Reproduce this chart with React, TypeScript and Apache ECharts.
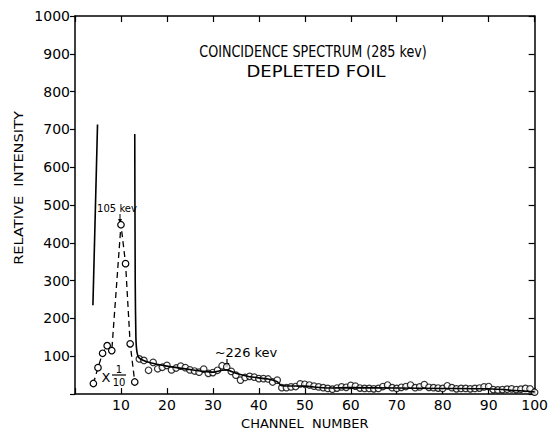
import React, { useEffect, useRef } from "react";
import * as echarts from "echarts";

// Dashed curve (scaled x 1/10) around the 105 keV peak
const peakChannels = [4, 5, 6, 7, 8, 10, 11, 12, 13];
const peakValues = [28, 70, 108, 128, 115, 448, 345, 133, 32];

// Measured points (open circles), channels 14..100
const tailChannels = [
  14, 15, 16, 17, 18, 19, 20, 21, 22, 23, 24, 25, 26, 27, 28, 29, 30, 31, 32, 33, 34,
  35, 36, 37, 38, 39, 40, 41, 42, 43, 44, 45, 46, 47, 48, 49, 50, 51, 52, 53, 54, 55,
  56, 57, 58, 59, 60, 61, 62, 63, 64, 65, 66, 67, 68, 69, 70, 71, 72, 73, 74, 75, 76,
  77, 78, 79, 80, 81, 82, 83, 84, 85, 86, 87, 88, 89, 90, 91, 92, 93, 94, 95, 96, 97,
  98, 99, 100,
];
const tailValues = [
  93, 89, 63, 84, 67, 71, 76, 64, 69, 74, 70, 64, 61, 58, 66, 55, 57, 63, 75, 72, 60,
  50, 37, 44, 47, 45, 41, 41, 40, 32, 37, 17, 17, 19, 20, 27, 26, 24, 21, 19, 17, 15,
  13, 16, 19, 18, 23, 21, 16, 15, 15, 14, 15, 20, 24, 17, 15, 18, 20, 24, 17, 19, 25,
  18, 17, 16, 15, 22, 17, 14, 15, 15, 14, 15, 16, 19, 20, 12, 11, 12, 13, 14, 12, 13,
  15, 14, 5,
];

// Solid (unscaled) curve
const riseChannels = [3.9, 4.9];
const riseValues = [235, 713];
const fitChannels = [13.0, 13.1, 13.25, 13.5, 14, 16, 20, 25, 28, 30, 32, 33, 35, 38, 42, 44, 45, 50, 55, 60, 70, 80, 90, 100];
const fitValues = [688, 300, 150, 110, 95, 84, 74, 65, 60, 58, 63, 64, 55, 46, 40, 33, 22, 21, 16, 17, 16, 15, 14, 6];

const xTicks = [0, 10, 20, 30, 40, 50, 60, 70, 80, 90, 100];
const yTicks = [0, 100, 200, 300, 400, 500, 600, 700, 800, 900, 1000];

const FONT = "DejaVu Sans";

export default function App() {
  const ref = useRef<HTMLDivElement>(null);
  useEffect(() => {
    if (!ref.current) return;
    const chart = echarts.init(ref.current, undefined, { renderer: "svg" });
    const zip = (xs: number[], ys: number[]) => xs.map((x, i) => [x, ys[i]]);
    const axisLine = { show: true, onZero: false, lineStyle: { color: "#000", width: 1.5 } };
    const txt = (x: number, y: number, text: string, size: number, extra: any = {}) => ({
      type: "text",
      x,
      y,
      ...extra,
      style: { text, font: `${size}px "${FONT}"`, fill: "#000", align: "center", verticalAlign: "middle" },
    });
    chart.setOption({
      animation: false,
      backgroundColor: "#fff",
      grid: { left: 75, right: 11, top: 16, bottom: 36 },
      xAxis: [
        {
          type: "value",
          min: xTicks[0],
          max: xTicks[xTicks.length - 1],
          interval: 10,
          position: "bottom",
          axisLine,
          axisTick: { show: true, inside: true, length: 6, lineStyle: { color: "#000", width: 1.2 } },
          splitLine: { show: false },
          axisLabel: {
            color: "#000",
            fontFamily: FONT,
            fontSize: 14,
            margin: 4,
            formatter: (v: number) => (v === 0 ? "" : String(v)),
          },
          name: "CHANNEL  NUMBER",
          nameLocation: "middle",
          nameGap: 20,
          nameTextStyle: { color: "#000", fontFamily: FONT, fontSize: 13 },
        },
        {
          type: "value",
          min: xTicks[0],
          max: xTicks[xTicks.length - 1],
          interval: 10,
          position: "top",
          axisLine,
          axisTick: { show: true, inside: true, length: 6, lineStyle: { color: "#000", width: 1.2 } },
          splitLine: { show: false },
          axisLabel: { show: false },
        },
      ],
      yAxis: [
        {
          type: "value",
          min: yTicks[0],
          max: yTicks[yTicks.length - 1],
          interval: 100,
          position: "left",
          axisLine,
          axisTick: { show: true, inside: false, length: 5, lineStyle: { color: "#000", width: 1.2 } },
          splitLine: { show: false },
          axisLabel: {
            color: "#000",
            fontFamily: FONT,
            fontSize: 14,
            margin: 5,
            formatter: (v: number) => (v === 0 ? "" : String(v)),
          },
        },
        {
          type: "value",
          min: yTicks[0],
          max: yTicks[yTicks.length - 1],
          interval: 100,
          position: "right",
          axisLine,
          axisTick: { show: true, inside: true, length: 6, lineStyle: { color: "#000", width: 1.2 } },
          splitLine: { show: false },
          axisLabel: { show: false },
        },
      ],
      series: [
        {
          type: "line",
          data: zip(riseChannels, riseValues),
          showSymbol: false,
          symbol: "none",
          lineStyle: { color: "#000", width: 1.6 },
          silent: true,
        },
        {
          type: "line",
          data: zip(fitChannels, fitValues),
          showSymbol: false,
          symbol: "none",
          smooth: 0.2,
          lineStyle: { color: "#000", width: 1.6 },
          silent: true,
        },
        {
          type: "line",
          data: zip(peakChannels, peakValues),
          symbol: "circle",
          symbolSize: 6.5,
          itemStyle: { color: "#fff", borderColor: "#000", borderWidth: 1.2 },
          lineStyle: { color: "#000", width: 1.3, type: [6, 4] },
          silent: true,
        },
        {
          type: "scatter",
          data: zip(tailChannels, tailValues),
          symbol: "circle",
          symbolSize: 6.5,
          itemStyle: { color: "#fff", borderColor: "#000", borderWidth: 1.2 },
          silent: true,
        },
      ],
      graphic: [
        txt(313, 52, "COINCIDENCE SPECTRUM (285 kev)", 15, { scaleX: 0.85 }),
        txt(316, 72, "DEPLETED FOIL", 15, { scaleX: 1.2 }),
        txt(18, 188, "RELATIVE  INTENSITY", 13, { rotation: Math.PI / 2, scaleX: 1.12 }),
        txt(117, 208, "105 kev", 10),
        { type: "line", shape: { x1: 120, y1: 214, x2: 120, y2: 222 }, style: { stroke: "#000", lineWidth: 1 } },
        { type: "polygon", shape: { points: [[118, 219], [122, 219], [120, 223]] }, style: { fill: "#000" } },
        txt(246, 352, "~226 kev", 13),
        { type: "line", shape: { x1: 227, y1: 359, x2: 227, y2: 367 }, style: { stroke: "#000", lineWidth: 1.2 } },
        { type: "polygon", shape: { points: [[224.5, 363], [229.5, 363], [227, 368]] }, style: { fill: "#000" } },
        txt(106, 377, "X", 13),
        txt(119, 369, "1", 10),
        { type: "line", shape: { x1: 112, y1: 375, x2: 126, y2: 375 }, style: { stroke: "#000", lineWidth: 1.2 } },
        txt(119, 382, "10", 10),
      ],
    });
    return () => chart.dispose();
  }, []);
  return (
    <div
      ref={ref}
      style={{ position: "absolute", left: 0, top: 0, width: 551, height: 435 }}
    />
  );
}
